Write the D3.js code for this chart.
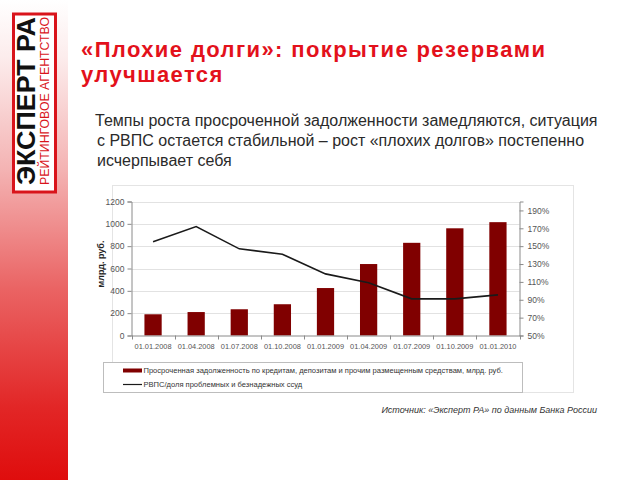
<!DOCTYPE html>
<html><head><meta charset="utf-8">
<script src="https://cdn.jsdelivr.net/npm/d3@7"></script>
<style>body{margin:0;background:#fff}svg{display:block}</style>
</head><body>
<svg id="c" width="640" height="480"></svg>
<script>
const categories = ["01.01.2008","01.04.2008","01.07.2008","01.10.2008","01.01.2009","01.04.2009","01.07.2009","01.10.2009","01.01.2010"];
const overdueDebt = [190, 210, 235, 280, 425, 640, 830, 960, 1015];
const reserveRatio = [155, 172, 147, 141, 119, 109, 91, 91, 95.5];
const leftTicks = [0,200,400,600,800,1000,1200];
const rightTicks = [50,70,90,110,130,150,170,190];
const seriesNames = ["Просроченная задолженность по кредитам, депозитам и прочим размещенным средствам, млрд. руб.","РВПС/доля проблемных и безнадежных ссуд"];
const titleLines = ["«Плохие долги»: покрытие резервами","улучшается"];
const subLines = ["Темпы роста просроченной задолженности замедляются, ситуация","с РВПС остается стабильной – рост «плохих долгов» постепенно","исчерпывает себя"];

const svg = d3.select("#c");
const F = "Liberation Sans, Arial, sans-serif";
const defs = svg.append("defs");
const g = defs.append("linearGradient").attr("id","strip").attr("x1",0).attr("y1",0).attr("x2",0).attr("y2",1);
[[0,"#ffffff"],[0.12,"#fcecec"],[0.35,"#f4b4b4"],[0.6,"#ea6464"],[0.85,"#e22626"],[1,"#df0d0d"]].forEach(s=>g.append("stop").attr("offset",s[0]).attr("stop-color",s[1]));
svg.append("rect").attr("x",0).attr("y",0).attr("width",68).attr("height",480).attr("fill","url(#strip)");

// logo
svg.append("rect").attr("x",13.5).attr("y",14).attr("width",42).attr("height",178).attr("fill","#fff").attr("stroke","#d9141b").attr("stroke-width",3);
svg.append("text").attr("transform","translate(35,185) rotate(-90)").attr("font-family",F).attr("font-weight","bold")
  .attr("font-size",25).attr("textLength",168).attr("lengthAdjust","spacingAndGlyphs").attr("fill","#111").text("ЭКСПЕРТ РА");
svg.append("text").attr("transform","translate(48.5,185) rotate(-90)").attr("font-family",F)
  .attr("font-size",12.5).attr("textLength",168).attr("lengthAdjust","spacingAndGlyphs").attr("fill","#d9141b").text("РЕЙТИНГОВОЕ АГЕНТСТВО");

// title
svg.append("g").selectAll("text").data(titleLines).join("text")
  .attr("x",81).attr("y",(d,i)=>57+i*25).attr("font-family",F).attr("font-weight","bold").attr("font-size",22)
  .attr("letter-spacing",1.4).attr("fill","#e3111b").text(d=>d);
svg.append("g").selectAll("text").data(subLines).join("text")
  .attr("x",(d,i)=>i===0?95:97).attr("y",(d,i)=>126+i*20).attr("font-family",F).attr("font-size",16)
  .attr("fill","#2a2a2a").text(d=>d);

// chart frame
svg.append("rect").attr("x",112.5).attr("y",185.5).attr("width",461).attr("height",207).attr("fill","#fff").attr("stroke","#e4e4e4");

const x = d3.scaleBand().domain(categories).range([131.5,519.5]).paddingInner(0.6).paddingOuter(0.3);
const yL = d3.scaleLinear().domain([0,1200]).range([335.5,201.5]);
const yR = d3.scaleLinear().domain([50,200]).range([335.5,201.5]);

// gridlines
svg.append("g").selectAll("line").data(leftTicks.slice(1)).join("line")
  .attr("x1",131.5).attr("x2",519.5).attr("y1",d=>Math.round(yL(d))+0.5).attr("y2",d=>Math.round(yL(d))+0.5)
  .attr("stroke","#e2e2e2").attr("stroke-width",1);

// bars
svg.append("g").selectAll("rect").data(categories).join("rect")
  .attr("x",d=>x(d)).attr("width",x.bandwidth()).attr("y",(d,i)=>yL(overdueDebt[i])).attr("height",(d,i)=>yL(0)-yL(overdueDebt[i]))
  .attr("fill","#800000");

// line
const line = d3.line().x((d,i)=>x(categories[i])+x.bandwidth()/2).y(d=>yR(d));
svg.append("path").datum(reserveRatio).attr("d",line).attr("fill","none").attr("stroke","#1a1a1a").attr("stroke-width",1.6);

// left axis
const axL = svg.append("g").attr("transform","translate(131.5,0)")
  .call(d3.axisLeft(yL).tickValues(leftTicks).tickSize(4).tickPadding(3).tickFormat(d3.format("d")));
axL.select(".domain").attr("stroke","#8a8a8a");
axL.selectAll(".tick line").attr("stroke","#8a8a8a");
axL.selectAll("text").attr("font-family",F).attr("font-size",8.5).attr("fill","#555");

// right axis
const axR = svg.append("g").attr("transform","translate(519.5,0)")
  .call(d3.axisRight(yR).tickValues(rightTicks).tickSize(4).tickPadding(4).tickFormat(d=>d+"%"));
axR.select(".domain").attr("stroke","#8a8a8a");
axR.selectAll(".tick line").attr("stroke","#8a8a8a");
axR.selectAll("text").attr("font-family",F).attr("font-size",8.5).attr("fill","#555");

// bottom axis
const axB = svg.append("g").attr("transform","translate(0,335.5)")
  .call(d3.axisBottom(x).tickSize(0).tickPadding(8));
axB.select(".domain").attr("stroke","#8a8a8a");
axB.selectAll("text").attr("font-family",F).attr("font-size",7.4).attr("fill","#555");
svg.append("g").selectAll("line").data(d3.range(categories.length+1)).join("line")
  .attr("x1",i=>Math.round(131.5+i*x.step())+0.5).attr("x2",i=>Math.round(131.5+i*x.step())+0.5)
  .attr("y1",335.5).attr("y2",339.5).attr("stroke","#8a8a8a");

// y title
svg.append("text").attr("transform","translate(104,264) rotate(-90)").attr("text-anchor","middle")
  .attr("font-family",F).attr("font-weight","bold").attr("font-size",9).attr("fill","#222").text("млрд. руб.");

// legend
svg.append("rect").attr("x",103.5).attr("y",362.5).attr("width",419).attr("height",30).attr("fill","#fff").attr("stroke","#bdbdbd");
svg.append("rect").attr("x",123).attr("y",368.5).attr("width",19).attr("height",4).attr("fill","#800000");
svg.append("line").attr("x1",123).attr("x2",142).attr("y1",384.5).attr("y2",384.5).attr("stroke","#1a1a1a").attr("stroke-width",1.2);
svg.append("g").selectAll("text").data(seriesNames).join("text")
  .attr("x",143.5).attr("y",(d,i)=>373+i*14).attr("font-family",F).attr("font-size",7.55).attr("fill","#333").text(d=>d);

// source
svg.append("text").attr("x",597).attr("y",413).attr("text-anchor","end").attr("font-family",F).attr("font-style","italic")
  .attr("font-size",9).attr("fill","#333").text("Источник: «Эксперт РА» по данным Банка России");
</script>
</body></html>
